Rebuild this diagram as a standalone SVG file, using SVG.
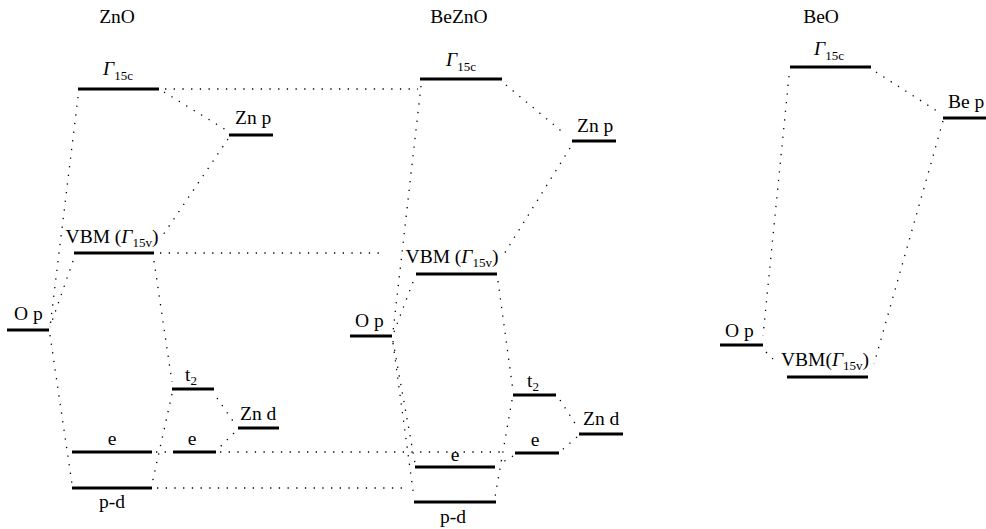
<svg xmlns="http://www.w3.org/2000/svg" width="986" height="529" viewBox="0 0 986 529">
<style>
.lv{stroke:#000;stroke-width:3.2;fill:none}
.dt{stroke:#000;stroke-width:1.3;stroke-dasharray:1.3 7.4;fill:none}
text{font-family:"Liberation Serif","Times New Roman",serif;font-size:19.5px;fill:#000}
.c{text-anchor:middle}
.g{font-style:italic}
.s{font-size:13px}
</style>
<rect width="986" height="529" fill="#fff"/>
<g id="titles">
<text class="c" x="117" y="23">ZnO</text>
<text class="c" x="459" y="23">BeZnO</text>
<text class="c" x="821" y="23">BeO</text>
</g>
<g id="connectors">
<!-- ZnO -->
<line class="dt" x1="78" y1="97" x2="50" y2="327"/>
<line class="dt" x1="73" y1="261" x2="50" y2="327"/>
<line class="dt" x1="50" y1="335" x2="72" y2="484"/>
<line class="dt" x1="164" y1="92" x2="226" y2="130"/>
<line class="dt" x1="228" y1="139" x2="161" y2="238"/>
<line class="dt" x1="165" y1="89" x2="418" y2="89"/>
<line class="dt" x1="160" y1="253" x2="384" y2="253"/>
<line class="dt" x1="154" y1="261" x2="172" y2="382"/>
<line class="dt" x1="172" y1="394" x2="152" y2="484"/>
<line class="dt" x1="217" y1="398" x2="235" y2="424"/>
<line class="dt" x1="234" y1="433" x2="219" y2="448"/>
<line class="dt" x1="220" y1="452" x2="506" y2="452"/>
<line class="dt" x1="156" y1="452" x2="170" y2="452"/>
<line class="dt" x1="157" y1="488" x2="402" y2="488"/>
<!-- BeZnO -->
<line class="dt" x1="421" y1="86" x2="393" y2="332"/>
<line class="dt" x1="413" y1="282" x2="394" y2="332"/>
<line class="dt" x1="506" y1="85" x2="566" y2="135"/>
<line class="dt" x1="570" y1="148" x2="501" y2="259"/>
<line class="dt" x1="498" y1="281" x2="513" y2="391"/>
<line class="dt" x1="512" y1="400" x2="495" y2="497"/>
<line class="dt" x1="393" y1="341" x2="415" y2="463"/>
<line class="dt" x1="393" y1="343" x2="414" y2="498"/>
<line class="dt" x1="560" y1="400" x2="578" y2="428"/>
<line class="dt" x1="577" y1="437" x2="562" y2="450"/>
<line class="dt" x1="513" y1="456" x2="498" y2="465"/>
<!-- BeO -->
<line class="dt" x1="789" y1="76" x2="763" y2="336"/>
<line class="dt" x1="876" y1="72" x2="940" y2="113"/>
<line class="dt" x1="943" y1="121" x2="874" y2="364"/>
<line class="dt" x1="766" y1="352" x2="776" y2="362"/>
</g>
<g id="ZnO-G15c"><line class="lv" x1="78" y1="89" x2="159" y2="89"/><text class="c" x="118" y="75"><tspan class="g">Γ</tspan><tspan class="s" dy="5">15c</tspan></text></g>
<g id="ZnO-Znp"><line class="lv" x1="229" y1="135" x2="273" y2="135"/><text x="235" y="124">Zn p</text></g>
<g id="ZnO-VBM"><line class="lv" x1="74" y1="253" x2="154" y2="253"/><text class="c" x="112" y="243">VBM (<tspan class="g">Γ</tspan><tspan class="s" dy="4">15v</tspan><tspan dy="-4">)</tspan></text></g>
<g id="ZnO-Op"><line class="lv" x1="7" y1="330" x2="49" y2="330"/><text x="14" y="320">O p</text></g>
<g id="ZnO-t2"><line class="lv" x1="172" y1="389" x2="214" y2="389"/><text x="185" y="381">t<tspan class="s" dy="4">2</tspan></text></g>
<g id="ZnO-Znd"><line class="lv" x1="238" y1="428" x2="279" y2="428"/><text x="240" y="420">Zn d</text></g>
<g id="ZnO-e"><line class="lv" x1="72" y1="452" x2="152" y2="452"/><text class="c" x="112" y="445">e</text></g>
<g id="ZnO-e2"><line class="lv" x1="173" y1="452" x2="216" y2="452"/><text class="c" x="192" y="445">e</text></g>
<g id="ZnO-pd"><line class="lv" x1="72" y1="488" x2="152" y2="488"/><text class="c" x="112" y="508">p-d</text></g>

<g id="BeZnO-G15c"><line class="lv" x1="420" y1="79" x2="502" y2="79"/><text class="c" x="461" y="66"><tspan class="g">Γ</tspan><tspan class="s" dy="5">15c</tspan></text></g>
<g id="BeZnO-Znp"><line class="lv" x1="572" y1="141" x2="616" y2="141"/><text x="577" y="132">Zn p</text></g>
<g id="BeZnO-VBM"><line class="lv" x1="416" y1="274" x2="497" y2="274"/><text class="c" x="452" y="263">VBM (<tspan class="g">Γ</tspan><tspan class="s" dy="4">15v</tspan><tspan dy="-4">)</tspan></text></g>
<g id="BeZnO-Op"><line class="lv" x1="350" y1="336" x2="392" y2="336"/><text x="355" y="327">O p</text></g>
<g id="BeZnO-t2"><line class="lv" x1="513" y1="395" x2="556" y2="395"/><text x="527" y="387">t<tspan class="s" dy="4">2</tspan></text></g>
<g id="BeZnO-Znd"><line class="lv" x1="579" y1="434" x2="623" y2="434"/><text x="583" y="425">Zn d</text></g>
<g id="BeZnO-e2"><line class="lv" x1="515" y1="453" x2="559" y2="453"/><text class="c" x="535" y="446">e</text></g>
<g id="BeZnO-e"><line class="lv" x1="415" y1="467" x2="495" y2="467"/><text class="c" x="455" y="461">e</text></g>
<g id="BeZnO-pd"><line class="lv" x1="414" y1="502" x2="496" y2="502"/><text class="c" x="453" y="523">p-d</text></g>

<g id="BeO-G15c"><line class="lv" x1="790" y1="67" x2="871" y2="67"/><text class="c" x="829" y="55"><tspan class="g">Γ</tspan><tspan class="s" dy="5">15c</tspan></text></g>
<g id="BeO-Bep"><line class="lv" x1="943" y1="118" x2="986" y2="118"/><text x="948" y="108">Be p</text></g>
<g id="BeO-Op"><line class="lv" x1="720" y1="345" x2="763" y2="345"/><text x="725" y="337">O p</text></g>
<g id="BeO-VBM"><line class="lv" x1="787" y1="377" x2="868" y2="377"/><text class="c" x="825" y="366">VBM(<tspan class="g">Γ</tspan><tspan class="s" dy="4">15v</tspan><tspan dy="-4">)</tspan></text></g>
</svg>
